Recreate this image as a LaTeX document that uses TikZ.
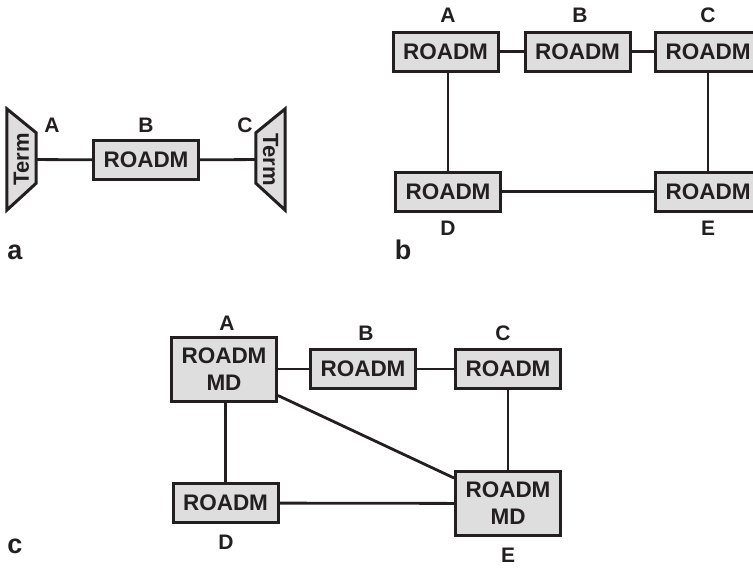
\documentclass[tikz,border=0pt]{standalone}
\usepackage{fontspec}
\setmainfont{Liberation Sans}
\definecolor{ink}{HTML}{231F20}
\definecolor{boxgray}{HTML}{DEDEDE}

\begin{document}
\begin{tikzpicture}[
  x=1pt,y=-1pt,
  roadm/.style={draw=ink,fill=boxgray,line width=3pt,minimum width=105pt,minimum height=39pt,inner sep=0pt,align=center,text=ink,font=\fontsize{22.5}{27}\selectfont\bfseries},
  mdbox/.style={roadm,minimum height=64pt},
  term/.style={minimum width=29pt,minimum height=101pt,inner sep=0pt},
  termbody/.style={draw=ink,fill=boxgray,line width=3pt,line join=miter},
  termtext/.style={inner sep=0pt,text=ink,font=\fontsize{22}{24}\selectfont\bfseries},
  tag/.style={text=ink,font=\fontsize{21}{23}\selectfont\bfseries},
  panel/.style={text=ink,font=\fontsize{27}{29}\selectfont\bfseries},
  link/.style={draw=ink,line width=2.8pt}
]
\useasboundingbox (0,0) rectangle (753,568);
% --- a: point to point ---
\node[term] (aA) at (21.5,159.5) {};
\draw[termbody] (aA.north west) -- ([yshift=-24pt]aA.north east) -- ([yshift=27pt]aA.south east) -- (aA.south west) -- cycle;
\node[termtext,rotate=90] (taA) at (aA.center) {Term};
\node[roadm] (aB) at (146,160) {ROADM};
\node[term] (aC) at (270.5,159.5) {};
\draw[termbody] (aC.north east) -- ([yshift=-24pt]aC.north west) -- ([yshift=27pt]aC.south west) -- (aC.south east) -- cycle;
\node[termtext,rotate=-90] (taC) at (aC.center) {Term};
\draw[link] (aA) -- (aB);
\draw[link] (aB) -- (aC);
\node[tag] (laA) at (52,125) {A};
\node[tag] (laB) at (146,125) {B};
\node[tag] (laC) at (245,125) {C};
\node[panel] (pa) at (15,252) {a};
% --- b: ring ---
\node[roadm] (bA) at (445.5,51.5) {ROADM};
\node[roadm] (bB) at (577.5,51.5) {ROADM};
\node[roadm] (bC) at (708,51.5) {ROADM};
\node[roadm] (bD) at (448,191.5) {ROADM};
\node[roadm] (bE) at (708,191.5) {ROADM};
\draw[link] (bA) -- (bB);
\draw[link] (bB) -- (bC);
\draw[link] (bA.south -| bD) -- (bD);
\draw[link] (bC) -- (bE);
\draw[link] (bD) -- (bE);
\node[tag] (lbA) at (448,15) {A};
\node[tag] (lbB) at (580,15) {B};
\node[tag] (lbC) at (708,15) {C};
\node[tag] (lbD) at (448,228) {D};
\node[tag] (lbE) at (708,228) {E};
\node[panel] (pb) at (403,250) {b};
% --- c: mesh ---
\node[mdbox] (cA) at (224,369) {ROADM\\MD};
\node[roadm] (cB) at (363,369) {ROADM};
\node[roadm] (cC) at (508,369) {ROADM};
\node[roadm] (cD) at (225.5,503) {ROADM};
\node[mdbox] (cE) at (508,503.5) {ROADM\\MD};
\draw[link] (cA) -- (cB);
\draw[link] (cB) -- (cC);
\draw[link] (cA.south -| cD) -- (cD);
\draw[link] (cC) -- (cE);
\draw[link] (cD) -- (cE);
\draw[link] ([yshift=7pt]cA.south east) -- ([yshift=-8pt]cE.north west);
\node[tag] (lcA) at (227,323) {A};
\node[tag] (lcB) at (366,333) {B};
\node[tag] (lcC) at (503,333) {C};
\node[tag] (lcD) at (226,542) {D};
\node[tag] (lcE) at (508,555) {E};
\node[panel] (pc) at (15,546) {c};
\end{tikzpicture}
\end{document}
